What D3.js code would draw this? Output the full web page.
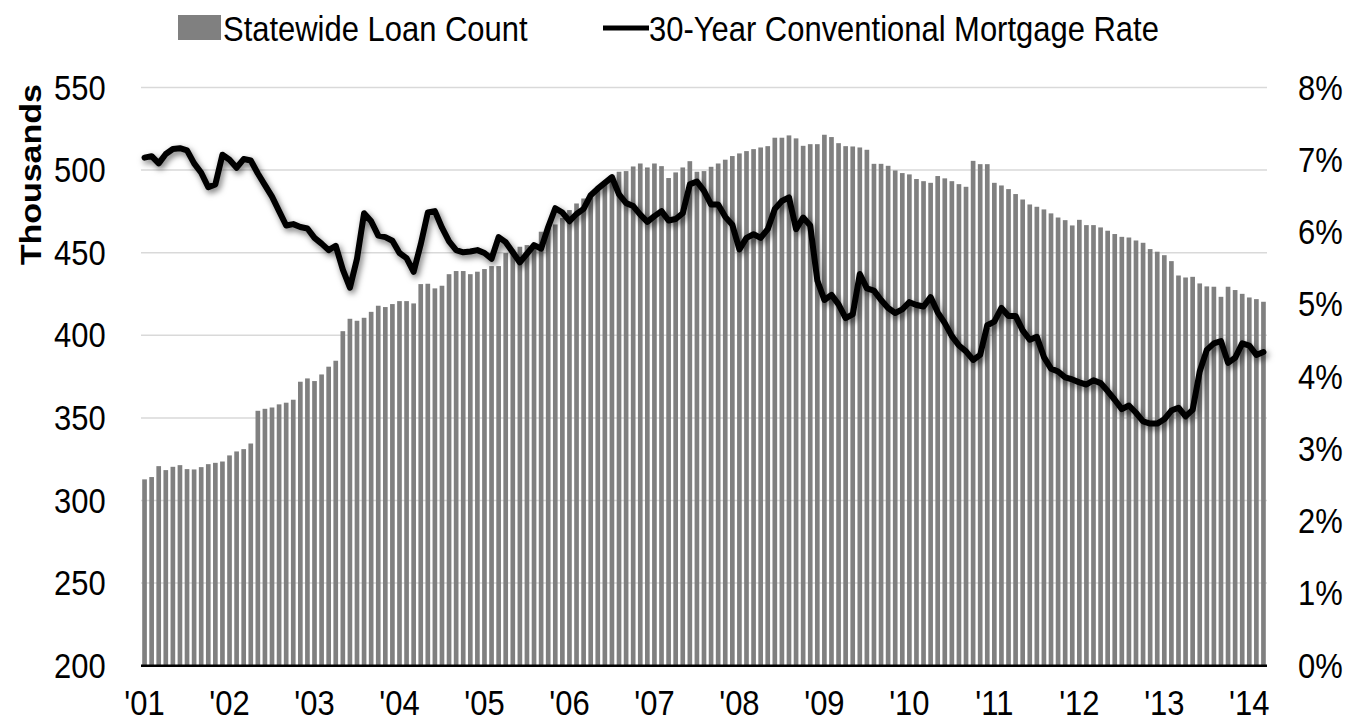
<!DOCTYPE html>
<html>
<head>
<meta charset="utf-8">
<script src="https://cdn.jsdelivr.net/npm/d3@7"></script>
<style>
  body { margin: 0; background: #fff; }
  text { font-family: "Liberation Sans", Arial, sans-serif; fill: #000; }
</style>
</head>
<body>
<div id="chart"></div>
<script>
// Data (monthly, Jan 2001 - Mar 2014)
const startYear = 2001;

// Statewide loan count, thousands
const loanCount = [
  312.8, 314.2, 320.8, 318.4, 320.4, 321.4, 319.0, 318.8, 320.2, 322.0, 322.8, 323.6,
  327.3, 329.7, 331.1, 334.5, 354.3, 355.5, 356.3, 358.2, 359.2, 361.0, 371.9, 373.9,
  372.3, 376.3, 381.0, 384.6, 402.5, 410.0, 408.8, 410.6, 414.2, 417.9, 417.1, 418.9,
  420.7, 420.7, 419.3, 431.0, 431.2, 428.4, 430.0, 437.0, 438.9, 438.9, 437.0, 438.5,
  440.1, 441.9, 441.9, 449.8, 451.8, 453.6, 454.6, 455.5, 462.7, 465.0, 467.1, 471.0,
  475.8, 479.8, 482.8, 485.9, 490.0, 493.3, 496.0, 499.0, 499.4, 502.2, 504.0, 501.6,
  504.0, 502.4, 495.2, 498.6, 501.6, 505.4, 499.0, 499.4, 502.0, 504.0, 506.3, 508.5,
  510.1, 511.5, 512.7, 513.7, 514.5, 519.6, 519.6, 521.0, 519.2, 514.7, 515.7, 515.7,
  521.4, 520.0, 516.3, 514.5, 514.3, 513.7, 512.3, 503.8, 503.8, 502.6, 499.8, 498.2,
  497.4, 494.6, 493.3, 492.3, 496.4, 495.0, 493.3, 491.5, 489.9, 505.6, 503.6, 503.6,
  492.3, 490.7, 488.5, 485.5, 482.2, 479.2, 477.8, 476.2, 473.8, 471.3, 469.7, 466.5,
  469.9, 466.7, 466.7, 465.3, 463.3, 461.3, 459.6, 459.2, 457.4, 456.0, 452.2, 450.6,
  448.5, 444.9, 436.2, 435.0, 435.4, 431.4, 429.6, 429.4, 423.3, 429.4, 427.4, 425.1,
  422.9, 421.9, 420.3
];

// 30-year conventional mortgage rate, percent
const mortgageRate = [
  7.03, 7.05, 6.95, 7.08, 7.15, 7.16, 7.13, 6.95, 6.82, 6.62, 6.66, 7.07,
  7.00, 6.89, 7.01, 6.99, 6.81, 6.65, 6.49, 6.29, 6.09, 6.11, 6.07, 6.05,
  5.92, 5.84, 5.75, 5.81, 5.48, 5.23, 5.63, 6.26, 6.15, 5.95, 5.93, 5.88,
  5.71, 5.64, 5.45, 5.83, 6.27, 6.29, 6.06, 5.87, 5.75, 5.72, 5.73, 5.75,
  5.71, 5.63, 5.93, 5.86, 5.72, 5.58, 5.70, 5.82, 5.77, 6.07, 6.33, 6.27,
  6.15, 6.25, 6.32, 6.51, 6.60, 6.68, 6.76, 6.52, 6.40, 6.36, 6.24, 6.14,
  6.22, 6.29, 6.16, 6.18, 6.26, 6.66, 6.70, 6.57, 6.38, 6.38, 6.21, 6.10,
  5.76, 5.92, 5.97, 5.92, 6.04, 6.32, 6.43, 6.48, 6.04, 6.20, 6.09, 5.33,
  5.06, 5.13, 5.00, 4.81, 4.86, 5.42, 5.22, 5.19, 5.06, 4.95, 4.88, 4.93,
  5.03, 4.99, 4.97, 5.10, 4.89, 4.74, 4.56, 4.43, 4.35, 4.23, 4.30, 4.71,
  4.76, 4.95, 4.84, 4.84, 4.64, 4.51, 4.55, 4.27, 4.11, 4.07, 3.99, 3.96,
  3.92, 3.89, 3.95, 3.91, 3.80, 3.68, 3.55, 3.60, 3.50, 3.38, 3.35, 3.35,
  3.41, 3.53, 3.57, 3.45, 3.54, 4.07, 4.37, 4.46, 4.49, 4.19, 4.26, 4.46,
  4.43, 4.30, 4.34
];

const loanTicks = [200, 250, 300, 350, 400, 450, 500, 550];
const rateTicks = [0, 1, 2, 3, 4, 5, 6, 7, 8];
const yearLabels = ["'01", "'02", "'03", "'04", "'05", "'06", "'07", "'08", "'09", "'10", "'11", "'12", "'13", "'14"];
const legendLabels = ["Statewide Loan Count", "30-Year Conventional Mortgage Rate"];

// Set dimensions
let width = 1348,
    height = 728;
let plot = { left: 141, right: 1267, top: 87.5, bottom: 665.7 };
let squeeze = 0.86;   // text in the source is horizontally condensed
let fontSize = 36;

let svg = d3.select("#chart")
    .append("svg")
        .attr("width", width)
        .attr("height", height);

// Drop shadow for the rate line
let filter = svg.append("defs").append("filter")
    .attr("id", "shadow")
    .attr("x", "-5%").attr("y", "-20%")
    .attr("width", "110%").attr("height", "140%");
filter.append("feDropShadow")
    .attr("dx", 2).attr("dy", 3)
    .attr("stdDeviation", 3)
    .attr("flood-color", "#000")
    .attr("flood-opacity", 0.55);

// Scales
let x = d3.scaleBand()
    .domain(d3.range(loanCount.length))
    .range([plot.left, plot.right])
    .paddingInner(0.34)
    .paddingOuter(0.17);
let yLeft = d3.scaleLinear().domain([200, 550]).range([plot.bottom, plot.top]);
let yRight = d3.scaleLinear().domain([0, 8]).range([plot.bottom, plot.top]);

// Gridlines
svg.append("g")
    .selectAll("line")
    .data(loanTicks.filter(d => d > 200))
    .join("line")
        .attr("x1", plot.left)
        .attr("x2", plot.right)
        .attr("y1", d => yLeft(d))
        .attr("y2", d => yLeft(d))
        .attr("stroke", "#d9d9d9")
        .attr("stroke-width", 1.5);

// Bars
svg.append("g")
    .selectAll("rect")
    .data(loanCount)
    .join("rect")
        .attr("x", (d, i) => x(i))
        .attr("width", x.bandwidth())
        .attr("y", d => yLeft(d))
        .attr("height", d => yLeft(200) - yLeft(d))
        .attr("fill", "#808080");

// Baseline
svg.append("line")
    .attr("x1", plot.left)
    .attr("x2", plot.right)
    .attr("y1", yLeft(200))
    .attr("y2", yLeft(200))
    .attr("stroke", "#000")
    .attr("stroke-width", 2.5);

// Rate line
let line = d3.line()
    .x((d, i) => x(i) + x.bandwidth() / 2)
    .y(d => yRight(d));
svg.append("path")
    .datum(mortgageRate)
    .attr("d", line)
    .attr("fill", "none")
    .attr("stroke", "#000")
    .attr("stroke-width", 6)
    .attr("stroke-linejoin", "round")
    .attr("stroke-linecap", "round")
    .attr("filter", "url(#shadow)");

// Axes
let styleTicks = (g) => {
    g.select(".domain").remove();
    g.selectAll("text")
        .attr("font-size", fontSize)
        .attr("font-family", "'Liberation Sans', Arial, sans-serif")
        .attr("fill", "#000")
        .attr("transform", `scale(${squeeze},1)`);
};

svg.append("g")
    .attr("transform", `translate(${plot.left},0)`)
    .call(d3.axisLeft(yLeft).tickValues(loanTicks).tickSize(0).tickPadding(41))
    .call(styleTicks);

svg.append("g")
    .attr("transform", `translate(${plot.right},0)`)
    .call(d3.axisRight(yRight).tickValues(rateTicks).tickSize(0).tickPadding(36)
        .tickFormat(d => d + "%"))
    .call(styleTicks);

svg.append("g")
    .attr("transform", `translate(0,${plot.bottom})`)
    .call(d3.axisBottom(x)
        .tickValues(d3.range(0, loanCount.length, 12))
        .tickSize(0)
        .tickPadding(24)
        .tickFormat(i => yearLabels[i / 12]))
    .call(g => {
        g.select(".domain").remove();
        g.selectAll("text")
            .attr("font-size", fontSize)
            .attr("font-family", "'Liberation Sans', Arial, sans-serif")
            .attr("fill", "#000")
            .attr("x", 0);
        // keep each label centred on its tick after the squeeze
        g.selectAll(".tick").each(function() {
            let t = d3.select(this).attr("transform");
            let tx = +t.match(/translate\(([-\d.]+)/)[1];
            d3.select(this).attr("transform", `translate(${tx},0) scale(${squeeze},1)`);
        });
    });

// Axis title
svg.append("text")
    .attr("transform", `translate(41,${(plot.top + 262) / 2}) rotate(-90) scale(1,${squeeze})`)
    .attr("text-anchor", "middle")
    .attr("font-size", 34)
    .attr("font-weight", "bold")
    .text("Thousands");

// Legend
let legend = svg.append("g");
legend.append("rect")
    .attr("x", 178).attr("y", 15)
    .attr("width", 43).attr("height", 25)
    .attr("fill", "#808080");
legend.append("text")
    .attr("transform", `translate(223,41) scale(${squeeze},1)`)
    .attr("font-size", fontSize)
    .text(legendLabels[0]);
legend.append("line")
    .attr("x1", 603).attr("x2", 649)
    .attr("y1", 28).attr("y2", 28)
    .attr("stroke", "#000")
    .attr("stroke-width", 5);
legend.append("text")
    .attr("transform", `translate(649,41) scale(${squeeze},1)`)
    .attr("font-size", fontSize)
    .text(legendLabels[1]);
</script>
</body>
</html>
